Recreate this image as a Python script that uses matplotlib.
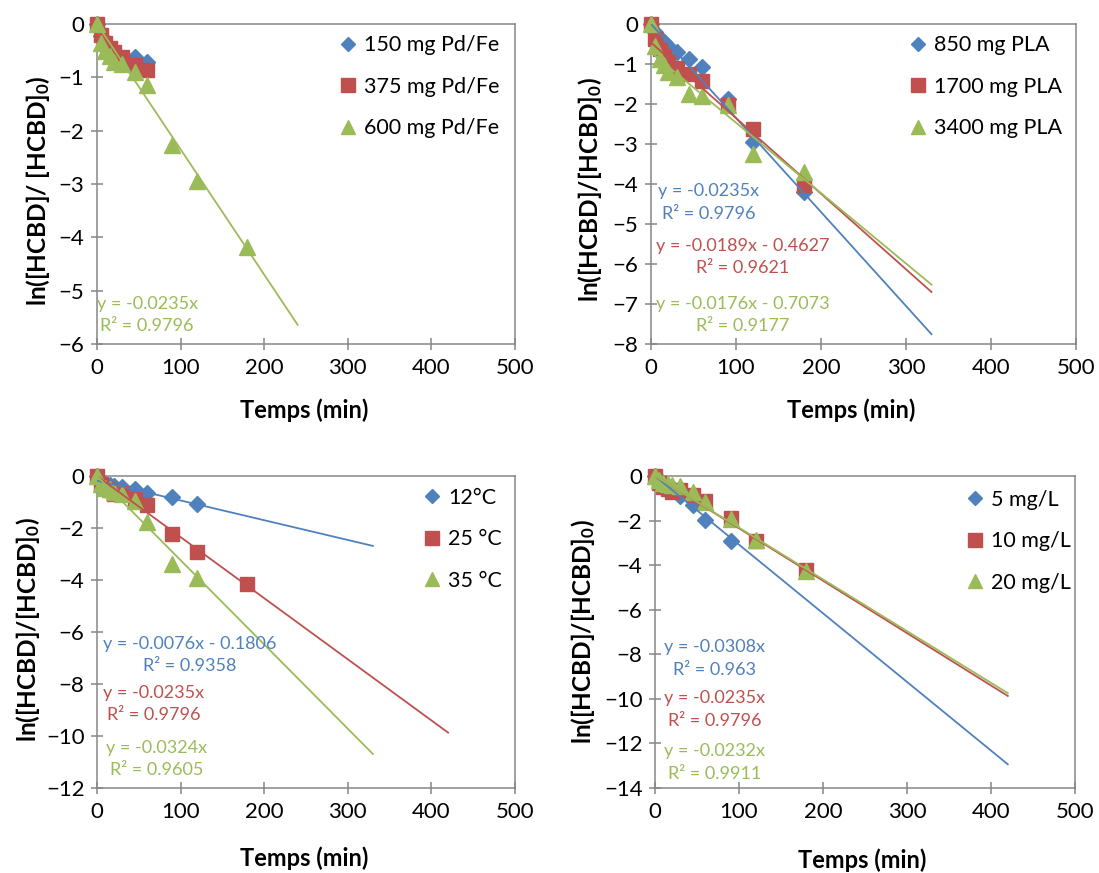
import matplotlib
matplotlib.use('Agg')
import matplotlib.pyplot as plt
from matplotlib.lines import Line2D
import numpy as np

plt.rcParams['font.family'] = ['Lato', 'DejaVu Sans']
plt.rcParams['mathtext.fontset'] = 'custom'
plt.rcParams['mathtext.rm'] = 'Lato:bold'
plt.rcParams['mathtext.bf'] = 'Lato:bold'
plt.rcParams['mathtext.default'] = 'rm'

BLUE = '#4F81BD'
RED = '#C0504D'
GREEN = '#9BBB59'
AXC = '#868686'

# ---------------- data ----------------
t_short = [0, 5, 10, 15, 20, 30, 45, 60]
t_mid = [0, 5, 10, 15, 20, 30, 45, 60, 90]
t_120 = [0, 5, 10, 15, 20, 30, 45, 60, 90, 120]
t_long = [0, 5, 10, 15, 20, 30, 45, 60, 90, 120, 180]

# Panel 1 : Pd/Fe loading
p1_labels = ['150 mg Pd/Fe', '375 mg Pd/Fe', '600 mg Pd/Fe']
p1_150 = [0, -0.22, -0.38, -0.5, -0.58, -0.75, -0.62, -0.72]
p1_375 = [0, -0.2, -0.35, -0.45, -0.52, -0.62, -0.77, -0.86]
p1_600 = [0, -0.35, -0.5, -0.6, -0.72, -0.75, -0.9, -1.15, -2.27, -2.95, -4.18]
p1_fit = [(None, None, None), (None, None, None), (-0.0235, 0.0, 240)]
p1_eq = ['', '', 'y = -0.0235x\nR² = 0.9796']

# Panel 2 : PLA amount
p2_labels = ['850 mg PLA', '1700 mg PLA', '3400 mg PLA']
p2_850 = [0, -0.2, -0.35, -0.45, -0.55, -0.7, -0.88, -1.08, -1.87, -2.95, -4.2]
p2_1700 = [0, -0.38, -0.62, -0.8, -0.95, -1.1, -1.25, -1.43, -2.02, -2.62, -4.03]
p2_3400 = [0, -0.55, -0.87, -1.03, -1.2, -1.32, -1.74, -1.8, -2.03, -3.24, -3.7]
p2_fit = [(-0.0235, 0.0, 330), (-0.0189, -0.4627, 330), (-0.0176, -0.7073, 330)]
p2_eq = ['y = -0.0235x\nR² = 0.9796',
         'y = -0.0189x - 0.4627\nR² = 0.9621',
         'y = -0.0176x - 0.7073\nR² = 0.9177']

# Panel 3 : temperature
p3_labels = ['12°C', '25 °C', '35 °C']
p3_12 = [0, -0.2, -0.3, -0.33, -0.38, -0.43, -0.5, -0.64, -0.81, -1.06]
p3_25 = [0, -0.3, -0.45, -0.55, -0.68, -0.65, -0.88, -1.12, -2.23, -2.92, -4.15]
p3_35 = [0, -0.3, -0.45, -0.5, -0.6, -0.7, -0.96, -1.77, -3.37, -3.92]
p3_fit = [(-0.0076, -0.1806, 330), (-0.0235, 0.0, 420), (-0.0324, 0.0, 330)]
p3_eq = ['y = -0.0076x - 0.1806\nR² = 0.9358',
         'y = -0.0235x\nR² = 0.9796',
         'y = -0.0324x\nR² = 0.9605']

# Panel 4 : initial concentration
p4_labels = ['5 mg/L', '10 mg/L', '20 mg/L']
p4_5 = [0, -0.15, -0.3, -0.45, -0.6, -0.9, -1.3, -1.98, -2.92]
p4_10 = [0, -0.3, -0.5, -0.6, -0.7, -0.65, -0.85, -1.1, -1.88, -2.92, -4.2]
p4_20 = [0, -0.2, -0.3, -0.35, -0.4, -0.45, -0.72, -1.15, -1.95, -2.88, -4.25]
p4_fit = [(-0.0308, 0.0, 420), (-0.0235, 0.0, 420), (-0.0232, 0.0, 420)]
p4_eq = ['y = -0.0308x\nR² = 0.963',
         'y = -0.0235x\nR² = 0.9796',
         'y = -0.0232x\nR² = 0.9911']

x_ticks = [0, 100, 200, 300, 400, 500]

# ---------------- layout ----------------
W, H = 1099, 873
fig = plt.figure(figsize=(W / 100, H / 100), dpi=100)


def px_rect(l, t, r, b):
    return [l / W, 1 - b / H, (r - l) / W, (b - t) / H]


panels = [
    dict(rect=px_rect(97, 24, 515, 344), ylim=(-6, 0), ystep=1,
         series=[(t_short, p1_150), (t_short, p1_375), (t_long, p1_600)],
         labels=p1_labels, fits=p1_fit, eqs=p1_eq,
         eqpos=[None, None, (60, -5.46)],
         leg=(0.58, 0.965),
         ylabel='ln([HCBD]/ [HCBD]$_0$)', ylpos=(38, 191), xlpos=(304, 410)),
    dict(rect=px_rect(651, 24, 1076, 344), ylim=(-8, 0), ystep=1,
         series=[(t_long, p2_850), (t_long, p2_1700), (t_long, p2_3400)],
         labels=p2_labels, fits=p2_fit, eqs=p2_eq,
         eqpos=[(68, -4.46), (107.5, -5.83), (107.5, -7.28)],
         leg=(0.607, 0.965),
         ylabel='ln([HCBD]/[HCBD]$_0$)', ylpos=(590, 190), xlpos=(851, 410)),
    dict(rect=px_rect(97, 476, 515, 788), ylim=(-12, 0), ystep=2,
         series=[(t_120, p3_12), (t_long, p3_25), (t_120, p3_35)],
         labels=p3_labels, fits=p3_fit, eqs=p3_eq,
         eqpos=[(111, -6.88), (68, -8.77), (71, -10.88)],
         leg=(0.78, 0.962),
         ylabel='ln([HCBD]/[HCBD]$_0$)', ylpos=(28, 630), xlpos=(304, 858)),
    dict(rect=px_rect(655, 476, 1075, 788), ylim=(-14, 0), ystep=2,
         series=[(t_mid, p4_5), (t_long, p4_10), (t_long, p4_20)],
         labels=p4_labels, fits=p4_fit, eqs=p4_eq,
         eqpos=[(71, -8.2), (71, -10.48), (71, -12.85)],
         leg=(0.742, 0.956),
         ylabel='ln([HCBD]/[HCBD]$_0$)', ylpos=(583, 632), xlpos=(862, 860)),
]

colors = [BLUE, RED, GREEN]
markers = ['D', 's', '^']
msizes = [8.0, 10.5, 11.0]
leg_msizes = [7.0, 9.5, 10.0]

for p in panels:
    ax = fig.add_axes(p['rect'])
    ax.set_xlim(0, 500)
    ax.set_ylim(*p['ylim'])
    ax.set_xticks(x_ticks)
    ax.set_yticks(np.arange(p['ylim'][0], 0.01, p['ystep']))
    for s in ax.spines.values():
        s.set_color(AXC)
        s.set_linewidth(1.1)
    ax.tick_params(direction='inout', length=8, width=1.1, color=AXC,
                   labelsize=16, labelcolor='black')
    ax.tick_params(axis='x', pad=6)
    ax.tick_params(axis='y', pad=5)

    for i, (xs, ys) in enumerate(p['series']):
        ax.plot(xs, ys, linestyle='none', marker=markers[i], ms=msizes[i],
                color=colors[i], mec=colors[i], clip_on=False, zorder=3)
    for i, (m, b, xe) in enumerate(p['fits']):
        if m is None:
            continue
        xx = np.array([0, xe])
        ax.plot(xx, m * xx + b, color=colors[i], lw=1.3, zorder=4)
    for i, txt in enumerate(p['eqs']):
        if not txt:
            continue
        x, y = p['eqpos'][i]
        ax.text(x, y, txt, color=colors[i], fontsize=13, ha='center',
                va='center', linespacing=1.5, multialignment='center', zorder=5)

    handles = [Line2D([], [], linestyle='none', marker=markers[i],
                      ms=leg_msizes[i], color=colors[i]) for i in range(3)]
    ax.legend(handles, p['labels'], loc='upper left', bbox_to_anchor=p['leg'],
              frameon=False, fontsize=15.5, handlelength=0.8, handletextpad=0.35,
              labelspacing=1.0, borderpad=0, borderaxespad=0, numpoints=1)

    fig.text(p['xlpos'][0] / W, 1 - p['xlpos'][1] / H, 'Temps (min)',
             fontsize=17, fontweight='bold', ha='center', va='center')
    fig.text(p['ylpos'][0] / W, 1 - p['ylpos'][1] / H, p['ylabel'],
             fontsize=17.5, fontweight='bold', ha='center', va='center',
             rotation=90)

fig.savefig('out.png', dpi=100)
